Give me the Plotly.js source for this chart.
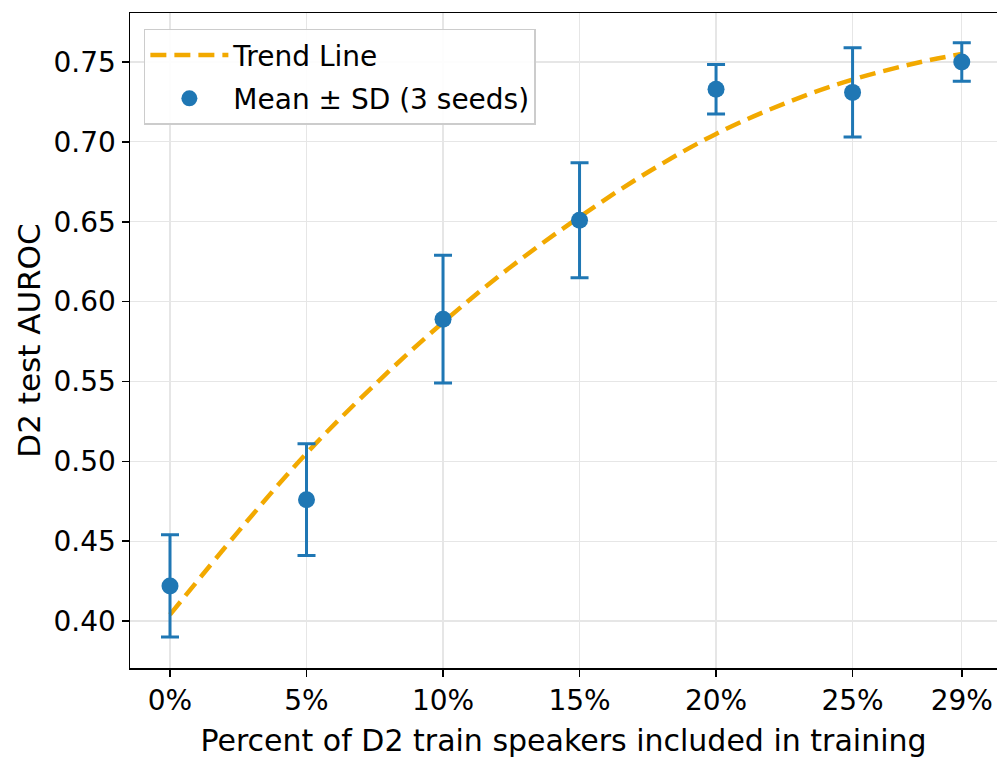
<!DOCTYPE html>
<html>
<head>
<meta charset="utf-8">
<script src="https://cdn.plot.ly/plotly-3.0.1.min.js"></script>
<style>html,body{margin:0;padding:0;background:#fff;}#chart{width:997px;height:759px;}</style>
</head>
<body>
<div id="chart"></div>
<script>
// Data
const pctValues = [0, 5, 10, 15, 20, 25, 29];
const tickLabels = ["0%", "5%", "10%", "15%", "20%", "25%", "29%"];
const meanAUROC = [0.422, 0.476, 0.589, 0.651, 0.733, 0.731, 0.750];
const sdAUROC = [0.032, 0.035, 0.040, 0.036, 0.0155, 0.028, 0.012];
const trendX = [0, 2.5, 5, 7.5, 10, 12.5, 15, 17.5, 20, 22.5, 25, 27.5, 29];
const trendY = [0.404, 0.456, 0.505, 0.548, 0.587, 0.622, 0.653, 0.681, 0.705, 0.724, 0.739, 0.750, 0.755];
const yTicks = [0.40, 0.45, 0.50, 0.55, 0.60, 0.65, 0.70, 0.75];

const FONT = "DejaVu Sans, sans-serif";

const traces = [
  {
    x: trendX, y: trendY, type: "scatter", mode: "lines",
    name: "Trend Line", legendgroup: "a",
    line: {color: "#f2a900", width: 4.5, dash: "16px,8px", shape: "spline"},
    hoverinfo: "skip"
  },
  {
    x: pctValues, y: meanAUROC, type: "scatter", mode: "markers",
    name: "Mean ± SD (3 seeds)", legendgroup: "b",
    marker: {color: "#1f77b4", size: 17},
    error_y: {type: "data", array: sdAUROC, visible: true, color: "#1f77b4", thickness: 3, width: 9}
  }
];

const layout = {
  width: 997, height: 759,
  margin: {l: 130, r: 0, t: 13, b: 91},
  paper_bgcolor: "#fff", plot_bgcolor: "#fff",
  font: {family: FONT, color: "#000", size: 28},
  showlegend: true,
  legend: {
    x: 0.016, y: 0.976, xanchor: "left", yanchor: "top",
    bgcolor: "rgba(255,255,255,0.9)", bordercolor: "#cccccc", borderwidth: 1.5,
    font: {family: FONT, size: 28, color: "#000"},
    itemwidth: 78, traceorder: "grouped", tracegroupgap: 4
  },
  xaxis: {
    range: [-1.465, 30.29],
    tickmode: "array", tickvals: pctValues, ticktext: tickLabels,
    ticks: "outside", ticklen: 7, tickwidth: 1.5, tickcolor: "#000",
    showline: true, linecolor: "#000", linewidth: 1.5, mirror: true,
    showgrid: true, gridcolor: "#e6e6e6", gridwidth: 1.2,
    zeroline: false,
    tickfont: {family: FONT, size: 28, color: "#000"},
    title: {text: "Percent of D2 train speakers included in training", font: {family: FONT, size: 30, color: "#000"}, standoff: 14}
  },
  yaxis: {
    range: [0.3706, 0.7807],
    tickmode: "array", tickvals: yTicks, ticktext: yTicks.map(v => v.toFixed(2)),
    ticks: "outside", ticklen: 7, tickwidth: 1.5, tickcolor: "#000",
    showline: true, linecolor: "#000", linewidth: 1.5, mirror: false,
    showgrid: true, gridcolor: "#e6e6e6", gridwidth: 1.2,
    zeroline: false,
    tickfont: {family: FONT, size: 28, color: "#000"},
    title: {text: "D2 test AUROC", font: {family: FONT, size: 31, color: "#000"}, standoff: 3}
  }
};

Plotly.newPlot("chart", traces, layout, {displayModeBar: false, staticPlot: true});
</script>
</body>
</html>
